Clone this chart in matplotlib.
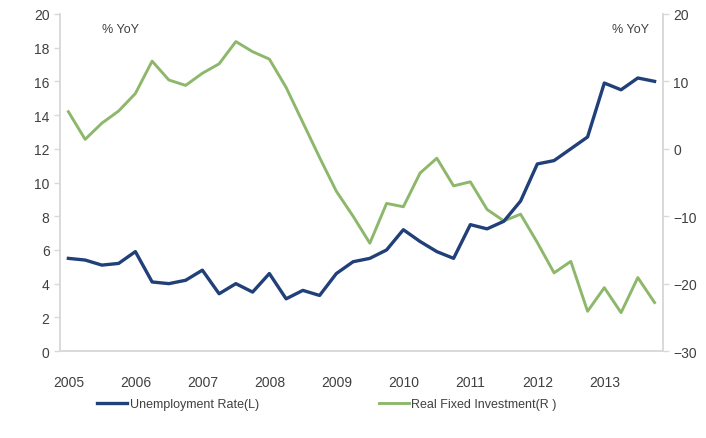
import matplotlib
matplotlib.use("Agg")
import numpy as np
import matplotlib.pyplot as plt

# quarterly data, 2005Q1 .. 2013Q4
years = [str(y) for y in range(2005, 2014)]
unemployment = [5.5, 5.4, 5.1, 5.2, 5.9, 4.1, 4.0, 4.2, 4.8, 3.4, 4.0, 3.5,
                4.6, 3.1, 3.6, 3.3, 4.6, 5.3, 5.5, 6.0, 7.2, 6.5, 5.9, 5.5,
                7.5, 7.25, 7.7, 8.9, 11.1, 11.3, 12.0, 12.7, 15.9, 15.5, 16.2, 16.0]
fixed_investment = [5.5, 1.4, 3.8, 5.6, 8.2, 13.0, 10.2, 9.4, 11.2, 12.6, 15.9, 14.4,
                    13.3, 9.1, 3.9, -1.3, -6.3, -10.0, -14.0, -8.1, -8.6, -3.6, -1.4, -5.5,
                    -4.9, -9.0, -10.7, -9.7, -13.9, -18.4, -16.7, -24.1, -20.6, -24.3, -19.1, -22.8]

plt.rcParams['font.family'] = ['Liberation Sans Narrow', 'Liberation Sans', 'DejaVu Sans']
txt_color = '#404040'
spine_color = '#D9D9D9'

fig = plt.figure(figsize=(7.06, 4.39), dpi=100)
ax = fig.add_axes([0.085, 0.198, 0.854, 0.768])
ax2 = ax.twinx()

x = np.arange(len(unemployment))
l1, = ax.plot(x, unemployment, color='#213F78', lw=2.4, label='Unemployment Rate(L)')
l2, = ax2.plot(x, fixed_investment, color='#8DB86B', lw=2.1, label='Real Fixed Investment(R )')
ax.set_zorder(ax2.get_zorder() + 1)
ax.patch.set_visible(False)

ax.set_xlim(-0.5, len(x) - 0.5)
ax.set_ylim(0, 20)
ax.set_yticks(np.arange(0, 21, 2))
ax2.set_ylim(-30, 20)
ax2.set_yticks(np.arange(-30, 21, 10))
ax.set_xticks(np.arange(0, len(x), 4))
ax.set_xticklabels(years)

for a in (ax, ax2):
    a.spines['top'].set_visible(False)
    for s in ('left', 'right', 'bottom'):
        a.spines[s].set_color(spine_color)
        a.spines[s].set_linewidth(1.2)
    a.tick_params(colors=txt_color, labelsize=10, length=4, width=1, direction='out')
    a.tick_params(axis='y', color=spine_color)
ax.tick_params(axis='x', length=0, pad=17)

ax.text(0.07, 0.955, '% YoY', transform=ax.transAxes, fontsize=9, color=txt_color,
        ha='left', va='center')
ax.text(0.915, 0.955, '% YoY', transform=ax.transAxes, fontsize=9, color=txt_color,
        ha='left', va='center')

fig.legend(handles=[l1, l2], loc='center', bbox_to_anchor=(0.463, 0.077), ncol=2,
           frameon=False, fontsize=9, handlelength=2.4, handletextpad=0.2,
           columnspacing=9.6, labelcolor=txt_color)

fig.savefig('out.png', dpi=100)
